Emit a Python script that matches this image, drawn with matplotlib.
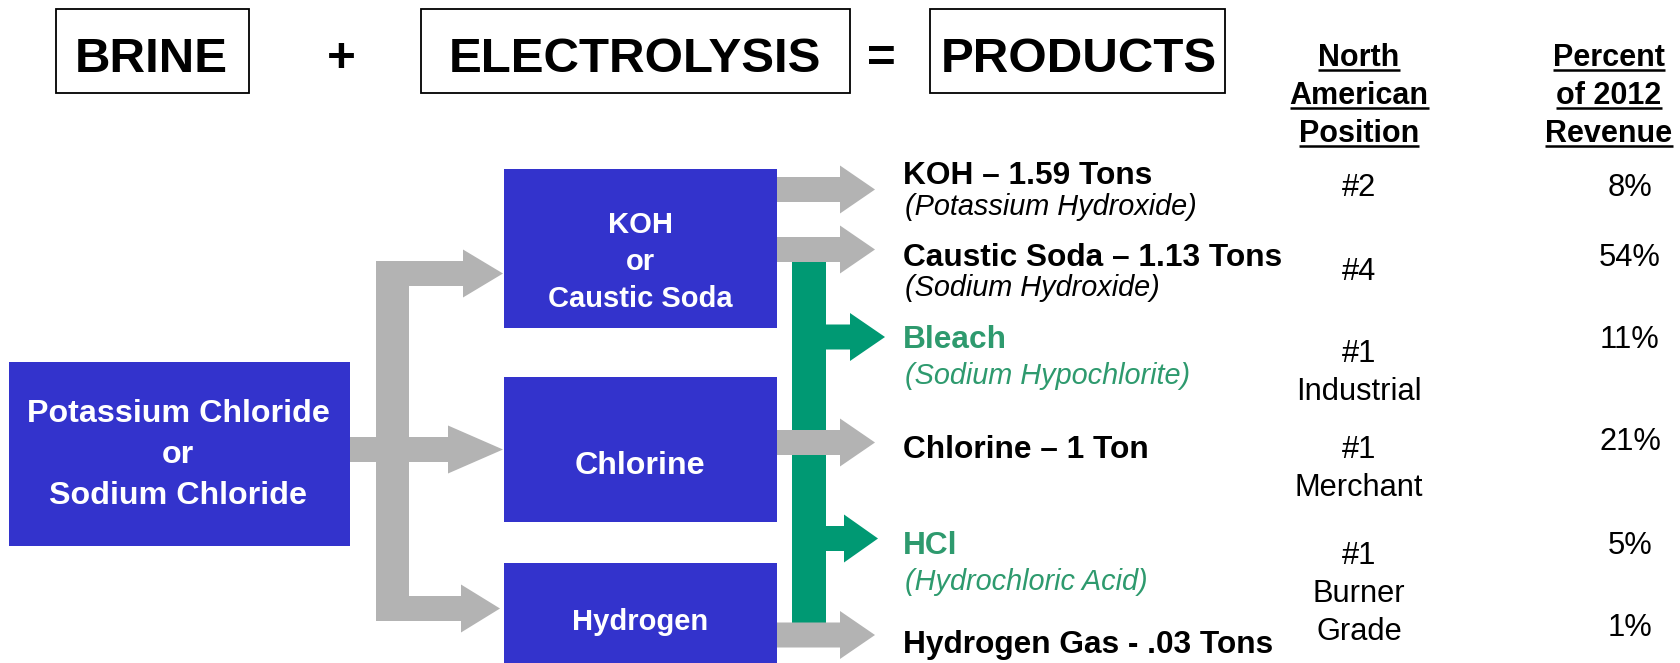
import numpy as np
import matplotlib.pyplot as plt
from matplotlib.patches import Rectangle, Polygon

plt.rcParams['font.family'] = ['Liberation Sans', 'DejaVu Sans']

BLUE = '#3333CC'
GRAY = '#B3B3B3'
GREEN = '#009973'
GREEN_TXT = '#2E9A6E'

# --- content ---
equation = ["BRINE", "+", "ELECTROLYSIS", "=", "PRODUCTS"]
feed = "Potassium Chloride\nor\nSodium Chloride"
cells = ["KOH\nor\nCaustic Soda", "Chlorine", "Hydrogen"]
products = ["KOH – 1.59 Tons", "Caustic Soda – 1.13 Tons", "Bleach",
            "Chlorine – 1 Ton", "HCl", "Hydrogen Gas - .03 Tons"]
chem_names = ["(Potassium Hydroxide)", "(Sodium Hydroxide)", "(Sodium Hypochlorite)",
              "", "(Hydrochloric Acid)", ""]
na_position = ["#2", "#4", "#1\nIndustrial", "#1\nMerchant", "#1\nBurner\nGrade", ""]
revenue_pct = [8, 54, 11, 21, 5, 1]
headers = ["North\nAmerican\nPosition", "Percent\nof 2012\nRevenue"]

# --- layout (pixel coords, y down) ---
prod_y = [172, 254, 336, 446, 543, 641]
chem_y = [204, 285, 373, None, 579, None]
pos_y = [184, 269, 350, 446, 552, None]
pct_y = [184, 255, 336, 439, 543, 624]
green_rows = [2, 4]

fig = plt.figure(figsize=(16.8, 6.63), dpi=100)
ax = fig.add_axes([0, 0, 1, 1])
ax.set_xlim(0, 1680)
ax.set_ylim(663, 0)
ax.axis('off')


def lines(x, y0, text, pitch, **kw):
    out = []
    for i, s in enumerate(text.split("\n")):
        out.append(ax.text(x, y0 + i * pitch, s, va='center_baseline', ha='center', **kw))
    return out


def arrow(x0, tip, yc, color, headlen, band=25, half=24):
    hb = tip - headlen
    pts = [(x0, yc - band / 2), (hb, yc - band / 2), (hb, yc - half), (tip, yc),
           (hb, yc + half), (hb, yc + band / 2), (x0, yc + band / 2)]
    ax.add_patch(Polygon(pts, closed=True, fc=color, ec='none', zorder=3))


# top equation
top_boxes = {0: (56, 249), 2: (421, 850), 4: (930, 1225)}
eq_x = [151, 341, 635, 881, 1079]
for i, word in enumerate(equation):
    if i in top_boxes:
        x0, x1 = top_boxes[i]
        ax.add_patch(Rectangle((x0, 9), x1 - x0, 84, fc='white', ec='black', lw=1.3))
    ax.text(eq_x[i], 54, word, ha='center', va='center_baseline',
            fontsize=35.5, fontweight='bold')

# blue boxes
ax.add_patch(Rectangle((9, 362), 341, 184, fc=BLUE, ec='none'))
lines(178, 411, feed, 40.5, color='white', fontsize=23.2, fontweight='bold')
cell_boxes = [(169, 328), (377, 522), (563, 670)]
cell_text = [(222, 37, 21), (463, 0, 23.2), (619, 0, 21)]
for (y0, y1), (ty, pitch, fs), label in zip(cell_boxes, cell_text, cells):
    ax.add_patch(Rectangle((504, y0), 273, y1 - y0, fc=BLUE, ec='none'))
    lines(640, ty, label, pitch, color='white', fontsize=fs, fontweight='bold')

# gray splitter
ax.add_patch(Rectangle((376, 261), 33, 360, fc=GRAY, ec='none', zorder=3))
arrow(350, 503, 449.5, GRAY, 55)
arrow(376, 503, 273.5, GRAY, 40)
arrow(376, 500, 608.5, GRAY, 39)

# green bar and arrows
ax.add_patch(Rectangle((792, 262), 34, 361, fc=GREEN, ec='none', zorder=2))
arrow(820, 885, 337, GREEN, 35)
arrow(820, 878, 538.5, GREEN, 34)

# gray product arrows
for yc in [189.5, 249.5, 442.5, 635]:
    arrow(777, 875, yc, GRAY, 35)

# product labels
for i, name in enumerate(products):
    col = GREEN_TXT if i in green_rows else 'black'
    ax.text(903, prod_y[i], name, ha='left', va='center_baseline',
            fontsize=22.8, fontweight='bold', color=col)
    if chem_names[i]:
        ax.text(905, chem_y[i], chem_names[i], ha='left', va='center_baseline',
                fontsize=20.8, fontstyle='italic', color=col)

# position column
for i, p in enumerate(na_position):
    if p:
        lines(1359, pos_y[i], p, 38.5, fontsize=22.2)

# revenue column
for v, y in zip(revenue_pct, pct_y):
    ax.text(1630, y, f"{v}%", ha='center', va='center_baseline', fontsize=22.2)

# underlined headers
hdr_texts = []
for hx, h in zip([1359, 1609], headers):
    for i, s in enumerate(h.split("\n")):
        t = ax.text(hx, 66 + i * 38, s, ha='center', va='baseline',
                    fontsize=22, fontweight='bold')
        hdr_texts.append(t)

fig.canvas.draw()
inv = ax.transData.inverted()
for t in hdr_texts:
    bb = t.get_window_extent()
    (xa, _), (xb, _) = inv.transform([(bb.x0, bb.y0), (bb.x1, bb.y1)])
    yb = t.get_position()[1] + 4
    ax.plot([xa, xb], [yb, yb], color='black', lw=1.8, solid_capstyle='butt')

fig.savefig("out.png", dpi=100)
